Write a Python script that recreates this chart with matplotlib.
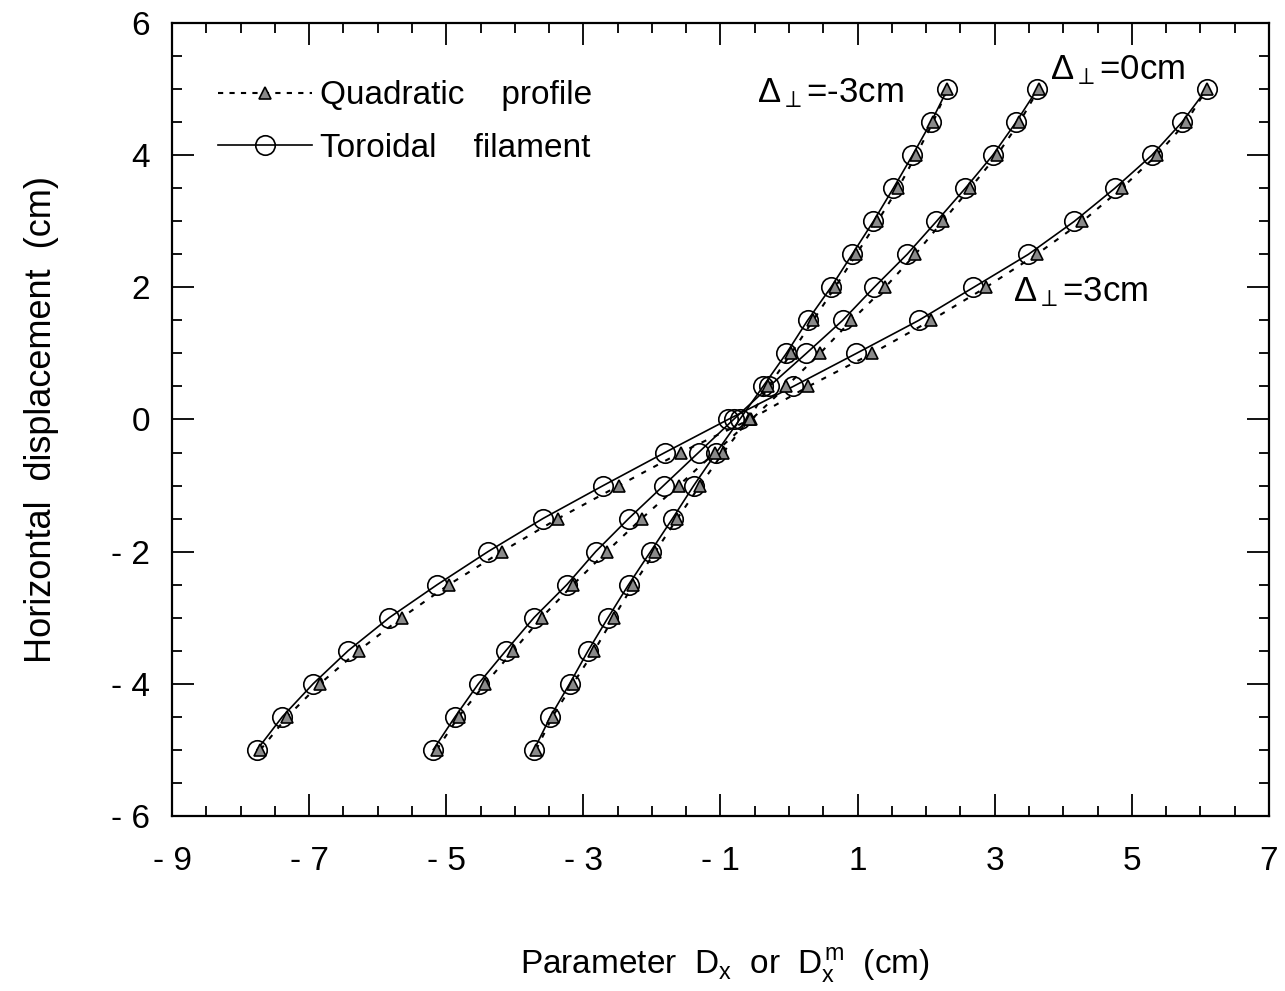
"""
plot.py - horizontal displacement vs. fitted D_x parameter,
quadratic profile vs. toroidal filament, for three Delta_perp shifts.
"""

import matplotlib
matplotlib.use("Agg")
import matplotlib.pyplot as plt
from matplotlib.ticker import MultipleLocator, FuncFormatter
from matplotlib.lines import Line2D

# ── Data ────────────────────────────────────────────────────────────────────
# horizontal displacement (cm), shared by every curve
disp = [-5.0, -4.5, -4.0, -3.5, -3.0, -2.5, -2.0, -1.5, -1.0, -0.5, 0.0,
        0.5, 1.0, 1.5, 2.0, 2.5, 3.0, 3.5, 4.0, 4.5, 5.0]

# toroidal filament (open circles)
tor_m3 = [-3.72, -3.48, -3.20, -2.93, -2.64, -2.34, -2.02, -1.70, -1.39, -1.06,
          -0.72, -0.38, -0.04, 0.27, 0.61, 0.92, 1.23, 1.52, 1.80, 2.07, 2.31]
tor_0 = [-5.19, -4.87, -4.53, -4.13, -3.72, -3.24, -2.82, -2.34, -1.83, -1.32,
         -0.81, -0.29, 0.25, 0.78, 1.24, 1.72, 2.15, 2.57, 2.97, 3.31, 3.62]
tor_p3 = [-7.76, -7.39, -6.94, -6.43, -5.83, -5.13, -4.39, -3.59, -2.71, -1.81,
          -0.89, 0.06, 0.98, 1.89, 2.69, 3.49, 4.16, 4.75, 5.29, 5.73, 6.09]

# quadratic profile (grey triangles)
quad_m3 = [-3.69, -3.45, -3.15, -2.84, -2.56, -2.27, -1.95, -1.63, -1.30, -0.96,
           -0.59, -0.30, 0.03, 0.35, 0.67, 0.98, 1.29, 1.59, 1.85, 2.10, 2.31]
quad_0 = [-5.14, -4.82, -4.43, -4.02, -3.61, -3.15, -2.66, -2.15, -1.61, -1.08,
          -0.55, -0.04, 0.45, 0.91, 1.40, 1.84, 2.24, 2.64, 3.03, 3.36, 3.64]
quad_p3 = [-7.71, -7.32, -6.84, -6.28, -5.65, -4.96, -4.19, -3.37, -2.48, -1.58,
           -0.57, 0.28, 1.21, 2.07, 2.87, 3.61, 4.28, 4.85, 5.36, 5.79, 6.09]

shift_labels = [r"$\Delta_{\perp}$=-3cm", r"$\Delta_{\perp}$=0cm", r"$\Delta_{\perp}$=3cm"]
label_pos = [(-0.47, 4.94), (3.81, 5.29), (3.27, 1.93)]

# ── Style ───────────────────────────────────────────────────────────────────
plt.rcParams["font.family"] = ["Liberation Sans", "DejaVu Sans"]
plt.rcParams["mathtext.fontset"] = "custom"
plt.rcParams["mathtext.rm"] = "Liberation Sans"
plt.rcParams["mathtext.it"] = "Liberation Sans"
plt.rcParams["mathtext.fallback"] = "stixsans"

quad_kw = dict(color="black", linestyle=(0, (2.5, 4)), linewidth=1.5,
               marker="^", markersize=8, markerfacecolor="#8a8a8a",
               markeredgecolor="black", markeredgewidth=1.2, zorder=3)
tor_kw = dict(color="black", linestyle="-", linewidth=1.2,
              marker="o", markersize=14, markerfacecolor="none",
              markeredgecolor="black", markeredgewidth=1.2, zorder=2)

fig = plt.figure(figsize=(12.85, 9.91), dpi=100)
ax = fig.add_axes([0.1339, 0.1769, 0.8536, 0.7996])

for tor, quad in [(tor_m3, quad_m3), (tor_0, quad_0), (tor_p3, quad_p3)]:
    ax.plot(tor, disp, **tor_kw)
    ax.plot(quad, disp, **quad_kw)

for txt, (tx, ty) in zip(shift_labels, label_pos):
    ax.text(tx, ty, txt, fontsize=25, ha="left", va="center")

ax.set_xlim(-9, 7)
ax.set_ylim(-6, 6)

def dash_fmt(v, pos):
    n = int(round(v))
    return f"- {abs(n)}" if n < 0 else f"{n}"

ax.xaxis.set_major_locator(MultipleLocator(2))
ax.xaxis.set_minor_locator(MultipleLocator(0.5))
ax.yaxis.set_major_locator(MultipleLocator(2))
ax.yaxis.set_minor_locator(MultipleLocator(0.5))
ax.xaxis.set_major_formatter(FuncFormatter(dash_fmt))
ax.yaxis.set_major_formatter(FuncFormatter(dash_fmt))
ax.set_xticks(range(-9, 8, 2))

ax.tick_params(which="both", direction="in", top=True, right=True, width=1.3)
ax.tick_params(which="major", length=16, labelsize=24)
ax.tick_params(axis="x", which="major", pad=22)
ax.tick_params(axis="y", which="major", pad=16)
ax.tick_params(which="minor", length=7)
for sp in ax.spines.values():
    sp.set_linewidth(1.6)

ax.set_xlabel(r"Parameter  $D_x$  or  $D_x^m$  (cm)", fontsize=24)
ax.set_ylabel("Horizontal  displacement  (cm)", fontsize=26)
ax.xaxis.set_label_coords(0.504, -0.165)
ax.yaxis.set_label_coords(-0.103, 0.5)

handles = [
    Line2D([], [], **{**quad_kw, "linestyle": (0, (2.5, 3))}),
    Line2D([], [], **tor_kw),
]
ax.legend(handles, ["Quadratic    profile", "Toroidal    filament"],
          loc="upper left", bbox_to_anchor=(0.03, 0.945), frameon=False,
          fontsize=24, handlelength=2.8, handletextpad=0.25, labelspacing=0.65,
          borderaxespad=0)

fig.savefig("out.png", dpi=100)
